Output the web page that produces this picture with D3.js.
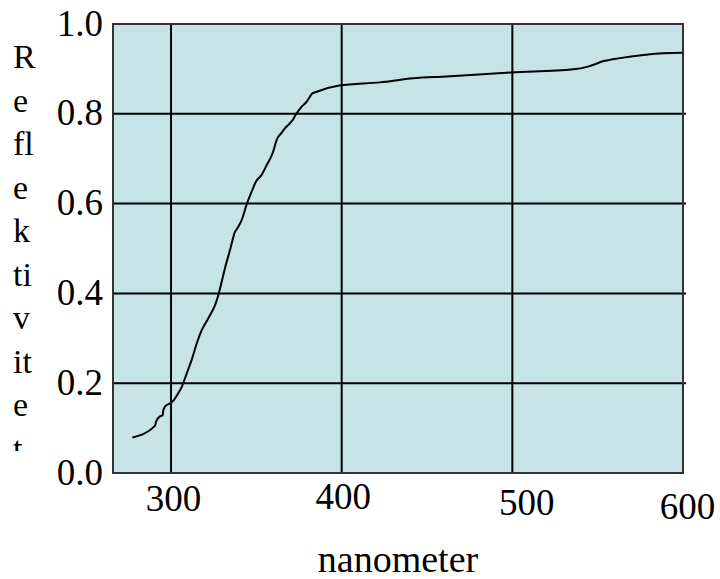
<!DOCTYPE html>
<html>
<head>
<meta charset="utf-8">
<script src="https://cdn.jsdelivr.net/npm/d3@7"></script>
<style>
  body { margin: 0; background: #fff; }
  text { font-family: "Liberation Serif", "Times New Roman", serif; fill: #000; }
</style>
</head>
<body>
<div id="chart"></div>
<script>
// wavelength (nm) and reflectance
var wavelength = [277.3, 290.6, 291.2, 293.1, 295.1, 295.5, 296.5, 299.4, 301.8, 304.3, 306.3, 309.2, 312.1,
  315.1, 318.0, 321.9, 325.8, 327.7, 329.7, 331.6, 334.6, 337.5, 338.5, 341.4, 344.3, 347.3, 349.8, 353.1,
  356.1, 359.9, 361.9, 364.9, 366.8, 369.7, 371.6, 373.6, 376.6, 379.5, 381.4, 382.4, 385.4, 398.6, 422.4,
  441.9, 461.5, 499.2, 535.7, 544.3, 554.2, 563.0, 576.7, 588.4, 599.8];
var reflectance = [0.079, 0.105, 0.114, 0.125, 0.129, 0.140, 0.148, 0.155, 0.163, 0.178, 0.192, 0.222, 0.252,
  0.289, 0.318, 0.345, 0.374, 0.396, 0.426, 0.456, 0.497, 0.537, 0.543, 0.563, 0.598, 0.627, 0.649, 0.664,
  0.686, 0.716, 0.742, 0.758, 0.768, 0.779, 0.788, 0.801, 0.816, 0.827, 0.838, 0.844, 0.849, 0.863, 0.870,
  0.879, 0.883, 0.892, 0.899, 0.905, 0.918, 0.924, 0.931, 0.935, 0.936];
var xTicks = [300, 400, 500, 600];
var yTicks = [0, 0.2, 0.4, 0.6, 0.8, 1.0];
var yLabelParts = ["R", "e", "fl", "e", "k", "ti", "v", "it", "e", "t"];
var xTitle = "nanometer";

var data = wavelength.map(function(d, i) { return {nm: d, r: reflectance[i]}; });

var W = 720, H = 579;
var margin = {top: 24, right: 37, bottom: 106, left: 113};
var width = W - margin.left - margin.right,
    height = H - margin.top - margin.bottom;

var svg = d3.select("#chart")
  .append("svg")
    .attr("width", W)
    .attr("height", H);

var g = svg.append("g")
    .attr("transform", "translate(" + margin.left + "," + margin.top + ")");

var x = d3.scaleLinear()
  .domain([266, 600])
  .range([0, width]);

var y = d3.scaleLinear()
  .domain([0, 1])
  .range([height, 0]);

// plot background
g.append("rect")
  .attr("width", width)
  .attr("height", height)
  .style("fill", "#c6e4e8");

// grid lines
g.append("g")
  .selectAll("line")
  .data(yTicks.slice(1, -1))
  .join("line")
    .attr("x1", 0)
    .attr("x2", width + 3)
    .attr("y1", function(d) { return y(d); })
    .attr("y2", function(d) { return y(d); })
    .style("stroke", "#000")
    .style("stroke-width", 2);

g.append("g")
  .selectAll("line")
  .data(xTicks.slice(0, -1))
  .join("line")
    .attr("x1", function(d) { return x(d); })
    .attr("x2", function(d) { return x(d); })
    .attr("y1", 0)
    .attr("y2", height)
    .style("stroke", "#000")
    .style("stroke-width", 2);

// border
g.append("rect")
  .attr("width", width)
  .attr("height", height)
  .style("fill", "none")
  .style("stroke", "#333")
  .style("stroke-width", 2);

// the curve
g.append("path")
  .datum(data)
  .attr("d", d3.line()
    .x(function(d) { return x(d.nm); })
    .y(function(d) { return y(d.r); })
    .curve(d3.curveMonotoneX))
  .style("fill", "none")
  .style("stroke", "#000")
  .style("stroke-width", 2);

// y axis
g.append("g")
  .call(d3.axisLeft(y).tickValues(yTicks).tickFormat(d3.format(".1f")).tickSize(0).tickPadding(10))
  .call(function(a) { a.select(".domain").remove(); })
  .selectAll("text")
    .style("font-size", "37px")
    .style("font-family", "Liberation Serif")
    .attr("dy", "0.3em");

// x axis, labels sit a bit unevenly in the original
var xNudge = {300: [2, 0], 400: [1, -2], 500: [14, 4], 600: [4, 8]};
g.append("g")
  .attr("transform", "translate(0," + height + ")")
  .call(d3.axisBottom(x).tickValues(xTicks).tickSize(0).tickPadding(12))
  .call(function(a) { a.select(".domain").remove(); })
  .selectAll("text")
    .style("font-size", "37px")
    .style("font-family", "Liberation Serif")
    .attr("transform", function(d) { return "translate(" + xNudge[d][0] + "," + xNudge[d][1] + ")"; });

// x title
svg.append("text")
  .attr("x", margin.left + width / 2)
  .attr("y", 572)
  .attr("text-anchor", "middle")
  .style("font-size", "38px")
  .text(xTitle);

// y title, broken into pieces stacked down the side and cut off at the bottom
svg.append("clipPath")
  .attr("id", "yclip")
  .append("rect")
    .attr("x", 0).attr("y", 0)
    .attr("width", 60).attr("height", 451);

svg.append("g")
  .attr("clip-path", "url(#yclip)")
  .selectAll("text")
  .data(yLabelParts)
  .join("text")
    .attr("x", 13)
    .attr("y", function(d, i) { return 68 + i * 43.5; })
    .style("font-size", "34px")
    .text(function(d) { return d; });
</script>
</body>
</html>
